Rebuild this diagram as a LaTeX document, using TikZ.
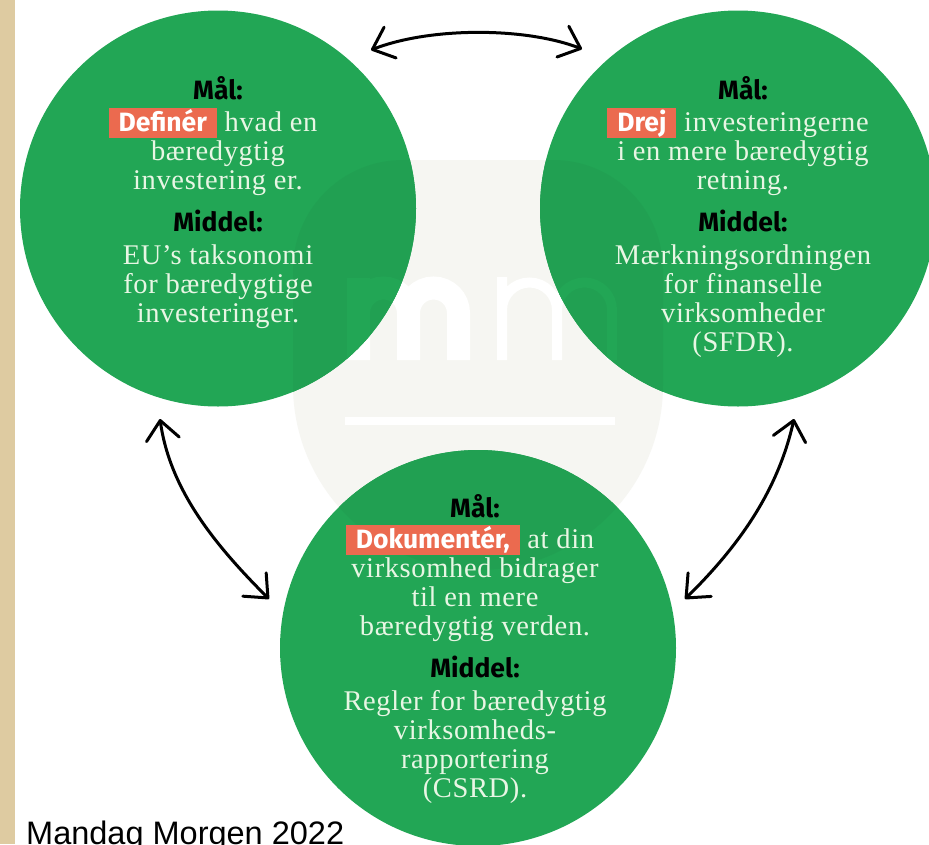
\documentclass[tikz,border=0pt]{standalone}
\usepackage{fontspec}
\usetikzlibrary{arrows.meta}
\setmainfont[LetterSpace=2.2]{Liberation Serif}
\newfontfamily\headfam{Fira Sans}
\newfontfamily\capfam{Liberation Sans}
\definecolor{cgreen}{HTML}{22A655}
\definecolor{wgreen}{HTML}{21A052}
\definecolor{hlred}{HTML}{EB6A4F}
\definecolor{sand}{HTML}{DECBA1}
\definecolor{wmgrey}{HTML}{F6F6F2}
\definecolor{pale}{HTML}{E8F6E4}
\newcommand\hdr[1]{{\headfam\bfseries\color{black}\fontsize{26.5}{29}\selectfont #1}}
\newcommand\hl[1]{\raisebox{0pt}[0pt][0pt]{\fboxsep=0pt\colorbox{hlred}{\hspace{10pt}\rule[-6.4pt]{0pt}{30pt}\headfam\bfseries\color{white}\fontsize{26.5}{29}\selectfont #1\hspace{10pt}}}}
\newcommand\wmark[2]{%
  \fill[#1] (293,-385) -- (293,-270) arc[start angle=180,end angle=90,radius=110pt] -- (553,-160)
    arc[start angle=90,end angle=0,radius=110pt] -- (663,-385)
    arc[start angle=0,end angle=-180,radius=185pt] -- cycle;
  \draw[#2,line width=23pt] (358.5,-360) -- (358.5,-278)
    (358.5,-313) arc[start angle=180,end angle=0,radius=25pt] -- (408.5,-360)
    (408.5,-313) arc[start angle=180,end angle=0,radius=25pt] -- (458.5,-360);
  \draw[#2,line width=10pt] (502,-360) -- (502,-277)
    (502,-310) arc[start angle=180,end angle=0,radius=27.5pt] -- (557,-360)
    (557,-310) arc[start angle=180,end angle=0,radius=27.5pt] -- (612,-360);
  \fill[#2] (345,-417) rectangle (615,-425);}
\tikzset{
  disc/.style={circle,fill=cgreen,minimum size=396pt,inner sep=0pt,outer sep=0pt},
  blurb/.style={anchor=north,align=center,inner sep=0pt,outer sep=0pt,text=pale,
    font=\fontsize{28.5}{29}\selectfont},
  dblarrow/.style={line width=3pt,black,line cap=round,line join=round,
    {Straight Barb[length=19pt,width=33pt,round]}-{Straight Barb[length=19pt,width=33pt,round]}},
}
\newcommand\firstrule{\rule{0pt}{20pt}}
\newcommand\nudge{\hspace{10pt}\mbox{}}
\begin{document}
\begin{tikzpicture}[x=1pt,y=1pt]
\useasboundingbox (0,-844) rectangle (929,0);
\clip (0,-844) rectangle (929,0);
\fill[white] (0,-844) rectangle (929,0);
\fill[sand] (0,-844) rectangle (15,0);
\wmark{wmgrey}{white}
\node[disc] (a) at (218,-208.5) {};
\node[disc] (b) at (738,-208.5) {};
\node[disc] (c) at (478,-648) {};
\begin{scope}\clip (218,-208.5) circle (198pt); \wmark{wgreen}{cgreen}\end{scope}
\begin{scope}\clip (738,-208.5) circle (198pt); \wmark{wgreen}{cgreen}\end{scope}
\begin{scope}\clip (478,-648) circle (198pt); \wmark{wgreen}{cgreen}\end{scope}

\node[blurb] (atext) at (218,-76.6) {\firstrule\hdr{Mål:}\\[3pt]
  \hl{Definér} hvad en\nudge\\ bæredygtig\\ investering er.\\[13pt]
  \hdr{Middel:}\\[4pt]
  EU’s taksonomi\\ for bæredygtige\\ investeringer.};
\node[blurb] (btext) at (743,-76.6) {\firstrule\hdr{Mål:}\\[3pt]
  \hl{Drej} investeringerne\nudge\\ i en mere bæredygtig\\ retning.\\[13pt]
  \hdr{Middel:}\\[4pt]
  Mærkningsordningen\\ for finanselle\\ virksomheder\\ (SFDR).};
\node[blurb] (ctext) at (475,-494.7) {\firstrule\hdr{Mål:}\\[2pt]
  \hl{Dokumentér,} at din\nudge\\ virksomhed bidrager\\ til en mere\\ bæredygtig verden.\\[13pt]
  \hdr{Middel:}\\[4pt]
  Regler for bæredygtig\\ virksomheds-\\ rapportering\\ (CSRD).};

\coordinate (ab1) at (371,-50);
\coordinate (ab2) at (582,-49);
\coordinate (ac1) at (160,-419);
\coordinate (ac2) at (269,-599);
\coordinate (bc1) at (794,-419);
\coordinate (bc2) at (685,-599);
\draw[dblarrow] (ab1) .. controls (430,-27) and (525,-27) .. (ab2);
\draw[dblarrow] (ac1) .. controls (170,-490) and (215,-545) .. (ac2);
\draw[dblarrow] (bc1) .. controls (778,-490) and (740,-545) .. (bc2);

\node[anchor=base west,inner sep=0pt,text=black,font=\capfam\fontsize{32.5}{32.5}\selectfont] (src) at (26,-844.5) {Mandag Morgen 2022};
\end{tikzpicture}
\end{document}
